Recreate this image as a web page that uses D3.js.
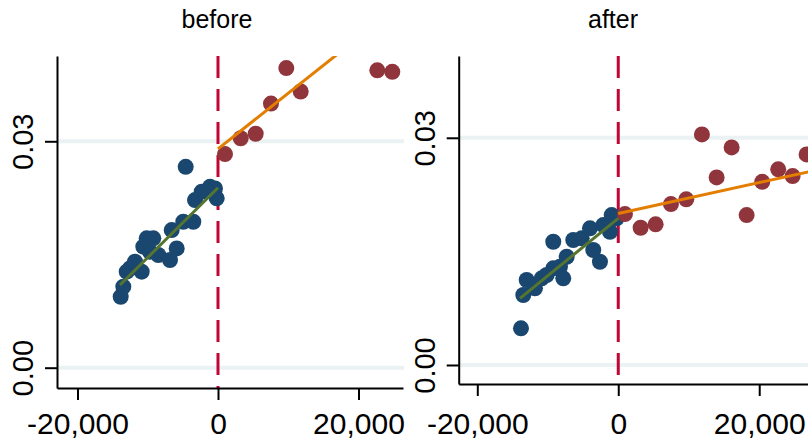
<html>
<head>
<meta charset="utf-8">
<script src="https://d3js.org/d3.v7.min.js"></script>
<style>
  body { margin: 0; background: #fff; }
  text { font-family: "Liberation Sans", Arial, sans-serif; }
</style>
</head>
<body>
<script>
// values: [distance, share]
var titles = ["before", "after"];
var xTicks = [-20000, 0, 20000];
var yTicks = [0, 0.03];

var beforeBelow = [[-13851,0.0094],[-13480,0.01073],[-12996,0.01272],[-12527,0.01317],[-11815,0.01404],
  [-10861,0.01272],[-10633,0.01603],[-10149,0.01714],[-9680,0.01536],[-9210,0.01714],[-8498,0.01493],
  [-6833,0.01427],[-5879,0.01581],[-6591,0.01824],[-4940,0.01934],[-4598,0.02662],[-3516,0.01934],
  [-3274,0.02221],[-2320,0.02331],[-1139,0.02397],[-427,0.02376],[-185,0.02244]];
var beforeAbove = [[996,0.0283],[3231,0.0304],[5366,0.031],[7544,0.035],[9722,0.0397],[11772,0.0366],
  [22676,0.0394],[24811,0.0392]];
var afterBelow = [[-13801,0.00484],[-13475,0.00924],[-12993,0.01122],[-11816,0.01012],[-10865,0.01144],
  [-10156,0.01188],[-9220,0.01276],[-9220,0.01627],[-8270,0.01297],[-7801,0.01144],[-7319,0.01429],
  [-6383,0.0165],[-5191,0.01672],[-4014,0.01804],[-3546,0.01518],[-2596,0.01363],[-2128,0.01848],
  [-1177,0.01759],[-936,0.0198],[-227,0.01936]];
var afterAbove = [[950,0.01993],[3177,0.01812],[5305,0.01857],[7475,0.02125],[9645,0.02187],[11872,0.03045],
  [13957,0.02477],[16085,0.02873],[18213,0.0198],[20426,0.02419],[22695,0.02583],[24738,0.02494],[26723,0.02781]];

// linear fits, end points
var beforeFitBelow = [[-13950,0.01095],[0,0.02385]];
var beforeFitAbove = [[0,0.029],[24811,0.0473]];
var afterFitBelow = [[-13943,0.0088],[0,0.01936]];
var afterFitAbove = [[0,0.02],[28000,0.02571]];

var panels = [
  {title: titles[0], below: beforeBelow, above: beforeAbove, fitB: beforeFitBelow, fitA: beforeFitAbove,
   x0: 57, x1: 403, y0: 56, y1: 388, xd: [-22918, 26335], yd: [-0.00269, 0.0413], tx: 217},
  {title: titles[1], below: afterBelow, above: afterAbove, fitB: afterFitBelow, fitA: afterFitAbove,
   x0: 458.7, x1: 850, y0: 56, y1: 384, xd: [-22638, 32880], yd: [-0.00251, 0.0408], tx: 613}
];

var svg = d3.select("body").append("svg")
  .attr("width", 808).attr("height", 439);

var loc = d3.formatLocale({decimal: ".", thousands: ",", grouping: [3], currency: ["", ""], minus: "-"});
var fmt = loc.format(",");

panels.forEach(function(p, i){
  var x = d3.scaleLinear().domain(p.xd).range([p.x0, p.x1]);
  var y = d3.scaleLinear().domain(p.yd).range([p.y1, p.y0]);
  var g = svg.append("g");

  g.append("clipPath").attr("id", "clip" + i)
    .append("rect").attr("x", p.x0).attr("y", p.y0)
    .attr("width", p.x1 - p.x0).attr("height", p.y1 - p.y0);

  g.append("text").attr("x", p.tx).attr("y", 28)
    .attr("text-anchor", "middle").style("font-size", "25px").text(p.title);

  // grid
  g.selectAll(".grid").data(yTicks).enter().append("line")
    .attr("x1", p.x0).attr("x2", p.x1 + 1)
    .attr("y1", function(d){ return y(d); }).attr("y2", function(d){ return y(d); })
    .attr("stroke", "#eaf2f3").attr("stroke-width", 4);

  var plot = g.append("g").attr("clip-path", "url(#clip" + i + ")");

  plot.append("line")
    .attr("x1", x(0)).attr("x2", x(0)).attr("y1", p.y0).attr("y2", p.y1)
    .attr("stroke", "#c10534").attr("stroke-width", 3).attr("stroke-dasharray", "22,11");

  plot.selectAll(".b").data(p.below).enter().append("circle")
    .attr("cx", function(d){ return x(d[0]); }).attr("cy", function(d){ return y(d[1]); })
    .attr("r", 8).attr("fill", "#1a476f");
  plot.selectAll(".a").data(p.above).enter().append("circle")
    .attr("cx", function(d){ return x(d[0]); }).attr("cy", function(d){ return y(d[1]); })
    .attr("r", 8).attr("fill", "#90353b");

  var line = d3.line().x(function(d){ return x(d[0]); }).y(function(d){ return y(d[1]); });
  plot.append("path").attr("d", line(p.fitB)).attr("fill", "none")
    .attr("stroke", "#55752f").attr("stroke-width", 3);
  plot.append("path").attr("d", line(p.fitA)).attr("fill", "none")
    .attr("stroke", "#e37e00").attr("stroke-width", 3);

  // axes
  var xa = g.append("g").attr("transform", "translate(0," + p.y1 + ")")
    .call(d3.axisBottom(x).tickValues(xTicks).tickFormat(fmt).tickSize(12).tickSizeOuter(0));
  xa.selectAll("text").attr("y", 434 - p.y1).attr("dy", 0)
    .style("font-size", "30px").attr("fill", "#000");

  var ya = g.append("g").attr("transform", "translate(" + p.x0 + ",0)")
    .call(d3.axisLeft(y).tickValues(yTicks).tickFormat(d3.format(".2f")).tickSize(12).tickSizeOuter(0));
  ya.selectAll("text")
    .attr("transform", "rotate(-90)").attr("x", 0).attr("y", -24).attr("dy", 0)
    .attr("text-anchor", "middle").style("font-size", "29px").attr("fill", "#000");

  g.selectAll(".domain, .tick line").attr("stroke", "#000").attr("stroke-width", 2);
});
</script>
</body>
</html>
